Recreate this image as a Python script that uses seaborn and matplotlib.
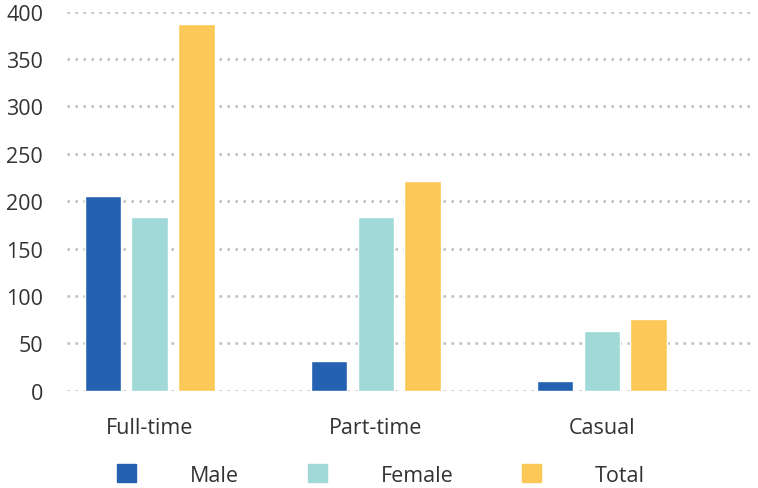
import matplotlib.pyplot as plt
import matplotlib.patches as mpatches
import pandas as pd
import seaborn as sns

categories = ['Full-time', 'Part-time', 'Casual']
series = ['Male', 'Female', 'Total']
male = [205, 31, 10]
female = [183, 183, 63]
total = [387, 221, 76]
colors = ['#2461B0', '#A0D9D7', '#FCC857']
y_ticks = [0, 50, 100, 150, 200, 250, 300, 350, 400]

df = pd.DataFrame({
    'category': categories * 3,
    'series': [s for s in series for _ in categories],
    'value': male + female + total,
})

sns.set_style('white')
plt.rcParams['font.family'] = ['Open Sans', 'DejaVu Sans']

fig = plt.figure(figsize=(7.58, 4.89), dpi=100)
ax = fig.add_axes([0.088, 0.199, 0.908, 0.775])

sns.barplot(data=df, x='category', y='value', hue='series',
            order=categories, hue_order=series, palette=colors,
            width=0.62, gap=0.22, saturation=1, legend=False, ax=ax)

ax.set_axisbelow(True)
ax.yaxis.grid(True, color='#bdbdbd', linestyle=(0, (1, 2.2)), linewidth=1.8)
ax.xaxis.grid(False)
for s in ax.spines.values():
    s.set_visible(False)

ax.set_ylim(0, 400)
ax.set_xlim(-0.367, 2.677)
ax.set_yticks(y_ticks)
ax.tick_params(axis='y', length=0, pad=17, labelsize=15.5, labelcolor='#333333')
ax.tick_params(axis='x', length=0, pad=19, labelsize=15.5, labelcolor='#333333')
ax.set_xlabel('')
ax.set_ylabel('')

handles = [mpatches.Patch(color=c, label=s) for c, s in zip(colors, series)]
fig.legend(handles=handles, loc='center', bbox_to_anchor=(0.503, 1 - 476 / 489),
           ncol=3, frameon=False, fontsize=15.5, labelcolor='#333333',
           handlelength=0.88, handleheight=0.88, handletextpad=2.5,
           columnspacing=3.2)

plt.savefig('out.png', dpi=100)
plt.close()
